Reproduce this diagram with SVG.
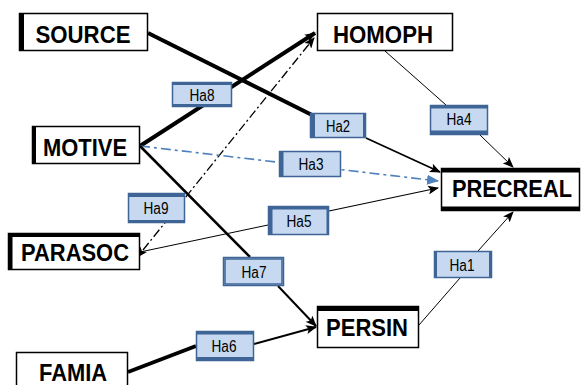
<svg xmlns="http://www.w3.org/2000/svg" width="583" height="385" viewBox="0 0 583 385">
<defs>
<marker id="ab" markerWidth="11" markerHeight="9" refX="10" refY="4.5" orient="auto" markerUnits="userSpaceOnUse"><path d="M0,0 L11,4.5 L0,9 L2.5,4.5 z" fill="#000"/></marker>
<marker id="as" markerWidth="11" markerHeight="9" refX="1" refY="4.5" orient="auto-start-reverse" markerUnits="userSpaceOnUse"><path d="M0,0 L11,4.5 L0,9 L2.5,4.5 z" fill="#000"/></marker>
<marker id="abl" markerWidth="12" markerHeight="10" refX="11" refY="5" orient="auto" markerUnits="userSpaceOnUse"><path d="M0,0 L12,5 L0,10 z" fill="#4f81bd"/></marker>
</defs>
<style>
.box{fill:#fff;stroke:#000;stroke-width:1.5}
.thk{fill:#000}
.nt{font-family:"Liberation Sans",Arial,sans-serif;font-weight:bold;font-size:24px;fill:#000;text-anchor:middle}
.lb{fill:#c6d9f1;stroke:#3f6597;stroke-width:1.5}
.ls{fill:#3f6597}
.lt{font-family:"Liberation Sans",Arial,sans-serif;font-size:16px;fill:#000;text-anchor:middle}
.c{fill:none;stroke:#000}
</style>
<g id="connectors">
<line class="c" x1="148" y1="33" x2="312" y2="115" stroke-width="4"/>
<line class="c" x1="366" y1="138" x2="440" y2="172" stroke-width="1.8" marker-end="url(#ab)"/>
<line class="c" x1="385" y1="51" x2="446" y2="105" stroke-width="1"/>
<line class="c" x1="480" y1="135" x2="513" y2="167" stroke-width="1" marker-end="url(#ab)"/>
<line class="c" x1="140" y1="146" x2="315" y2="33" stroke-width="4" marker-end="url(#ab)"/>
<line class="c" x1="143" y1="250" x2="314" y2="38" stroke-width="1.3" stroke-dasharray="9 3 2 3" marker-start="url(#as)" marker-end="url(#ab)"/>
<line x1="140" y1="146" x2="438" y2="181" stroke="#4f81bd" stroke-width="1.6" stroke-dasharray="10 4 3 4" marker-end="url(#abl)"/>
<line class="c" x1="140" y1="146" x2="250" y2="257" stroke-width="2.5"/>
<line class="c" x1="278" y1="286" x2="316" y2="326" stroke-width="2" marker-end="url(#ab)"/>
<line class="c" x1="140" y1="252" x2="268" y2="225" stroke-width="1"/>
<line class="c" x1="329" y1="211" x2="438" y2="188" stroke-width="1.2" marker-end="url(#ab)"/>
<line class="c" x1="128" y1="372" x2="196" y2="346" stroke-width="4"/>
<line class="c" x1="254" y1="344" x2="316" y2="327" stroke-width="2" marker-end="url(#ab)"/>
<line class="c" x1="419" y1="325" x2="460" y2="278" stroke-width="1"/>
<line class="c" x1="478" y1="251" x2="513" y2="212" stroke-width="1" marker-end="url(#ab)"/>
</g>
<g id="SOURCE">
<rect class="box" x="19.5" y="13.5" width="128" height="37"/>
<rect class="thk" x="19" y="13" width="5" height="38"/>
<text class="nt" x="83" y="43" textLength="95" lengthAdjust="spacingAndGlyphs">SOURCE</text>
</g>
<g id="HOMOPH">
<rect class="box" x="317.5" y="13.5" width="135" height="37"/>
<text class="nt" x="383" y="43" textLength="100" lengthAdjust="spacingAndGlyphs">HOMOPH</text>
</g>
<g id="MOTIVE">
<rect class="box" x="32.5" y="126.5" width="107" height="37"/>
<rect class="thk" x="32" y="126" width="4" height="38"/>
<text class="nt" x="85" y="156" textLength="84" lengthAdjust="spacingAndGlyphs">MOTIVE</text>
</g>
<g id="PARASOC">
<rect class="box" x="8.5" y="233.5" width="131" height="36" stroke-width="2"/>
<rect class="thk" x="8" y="233" width="4.5" height="37"/>
<rect class="thk" x="8" y="233" width="132" height="4"/>
<text class="nt" x="75" y="261" textLength="108" lengthAdjust="spacingAndGlyphs">PARASOC</text>
</g>
<g id="PRECREAL">
<rect class="box" x="441.5" y="168.5" width="138" height="42" stroke-width="2"/>
<rect class="thk" x="441" y="168" width="139" height="4.5"/>
<rect class="thk" x="441" y="206.5" width="139" height="4.5"/>
<text class="nt" x="512" y="197" font-size="22" textLength="120" lengthAdjust="spacingAndGlyphs">PRECREAL</text>
</g>
<g id="PERSIN">
<rect class="box" x="317.5" y="306.5" width="101" height="41"/>
<rect class="thk" x="317" y="306" width="102" height="5"/>
<text class="nt" x="367" y="336" textLength="82" lengthAdjust="spacingAndGlyphs">PERSIN</text>
</g>
<g id="FAMIA">
<rect class="box" x="16.5" y="352.5" width="111" height="40"/>
<text class="nt" x="73" y="381" textLength="68" lengthAdjust="spacingAndGlyphs">FAMIA</text>
</g>
<g id="Ha8">
<rect class="lb" x="172.5" y="82.5" width="59" height="24"/>
<rect class="ls" x="172" y="82" width="60" height="3"/>
<rect class="ls" x="172" y="104" width="60" height="3"/>
<text class="lt" x="202" y="101" textLength="25" lengthAdjust="spacingAndGlyphs">Ha8</text>
</g>
<g id="Ha2">
<rect class="lb" x="310.5" y="113.5" width="55" height="24"/>
<rect class="ls" x="310" y="113" width="5" height="25"/>
<rect class="ls" x="363" y="113" width="3" height="25"/>
<text class="lt" x="338" y="132" textLength="24" lengthAdjust="spacingAndGlyphs">Ha2</text>
</g>
<g id="Ha4">
<rect class="lb" x="430.5" y="105.5" width="57" height="29"/>
<rect class="ls" x="430" y="105" width="58" height="3.5"/>
<rect class="ls" x="430" y="130.5" width="58" height="4.5"/>
<text class="lt" x="459" y="125" textLength="25" lengthAdjust="spacingAndGlyphs">Ha4</text>
</g>
<g id="Ha9">
<rect class="lb" x="128.5" y="193.5" width="56" height="29"/>
<rect class="ls" x="128" y="193" width="57" height="4"/>
<rect class="ls" x="128" y="220" width="57" height="3"/>
<text class="lt" x="156" y="214" textLength="25" lengthAdjust="spacingAndGlyphs">Ha9</text>
</g>
<g id="Ha3">
<rect class="lb" x="279.5" y="151.5" width="61" height="25"/>
<rect class="ls" x="279" y="151" width="4.5" height="26"/>
<text class="lt" x="311" y="170" textLength="25" lengthAdjust="spacingAndGlyphs">Ha3</text>
</g>
<g id="Ha5">
<rect class="lb" x="268.5" y="206.5" width="60" height="28"/>
<rect class="ls" x="268" y="206" width="4.5" height="29"/>
<rect class="ls" x="268" y="206" width="61" height="3.5"/>
<rect class="ls" x="326.5" y="206" width="2.5" height="29"/>
<text class="lt" x="299" y="227" textLength="25" lengthAdjust="spacingAndGlyphs">Ha5</text>
</g>
<g id="Ha7">
<rect class="lb" x="223.5" y="257.5" width="60" height="28"/>
<rect class="lb" x="225" y="259" width="57" height="25" stroke-width="3"/>
<text class="lt" x="254" y="278" textLength="25" lengthAdjust="spacingAndGlyphs">Ha7</text>
</g>
<g id="Ha6">
<rect class="lb" x="196.5" y="331.5" width="57" height="29"/>
<rect class="ls" x="196" y="331" width="58" height="3.5"/>
<rect class="ls" x="196" y="357" width="58" height="4"/>
<text class="lt" x="224" y="352" textLength="25" lengthAdjust="spacingAndGlyphs">Ha6</text>
</g>
<g id="Ha1">
<rect class="lb" x="434.5" y="251.5" width="57" height="26"/>
<rect class="ls" x="434" y="251" width="3" height="27"/>
<rect class="ls" x="489" y="251" width="3" height="27"/>
<text class="lt" x="462" y="271" textLength="25" lengthAdjust="spacingAndGlyphs">Ha1</text>
</g>
</svg>
